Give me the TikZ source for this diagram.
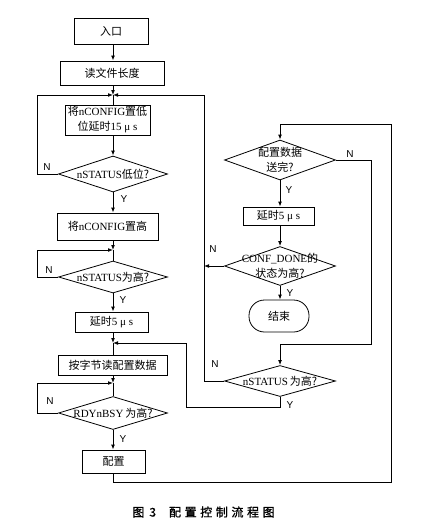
\documentclass[tikz,border=0pt]{standalone}
\usepackage{fontspec}
\setmainfont{Liberation Serif}
\newfontfamily\cjk{Noto Sans CJK SC}
\newfontfamily\capfont[LetterSpace=30,FakeBold=1.2]{Noto Sans CJK SC}
\newfontfamily\ynfont{Liberation Sans}
\usetikzlibrary{shapes.geometric,arrows.meta}
\newcommand\cjt[1]{{\cjk #1}}
\tikzset{
  txt/.style={font=\fontsize{11}{15}\selectfont},
  proc/.style n args={2}{draw, rectangle, txt, minimum width=#1, minimum height=#2, inner sep=0pt, align=center},
  endbox/.style n args={2}{draw, rectangle, rounded corners=15.5pt, txt, minimum width=#1, minimum height=#2, inner sep=0pt, align=center},
  dia/.style n args={2}{draw, diamond, minimum width=#1, minimum height=#2, inner sep=0pt},
  dtext/.style={txt, align=center, inner sep=0pt},
  yn/.style={font=\ynfont\fontsize{10}{12}\selectfont, inner sep=0pt},
  arr/.style={-{Latex[length=5pt,width=3.8pt]}},
}
\begin{document}
\begin{tikzpicture}[x=1pt,y=-1pt,line width=0.8pt]
\useasboundingbox (0,0) rectangle (432,527);
% merge points and routing coordinates
\coordinate (m1) at (113,95);
\coordinate (m2) at (113,250);
\coordinate (m3) at (113,343);
\coordinate (m4) at (113,383);
\coordinate (l1) at (37,95);
\coordinate (l2) at (37,250);
\coordinate (l4) at (37,383);
\coordinate (vx) at (204,95);
\coordinate (rb) at (391,482);
\coordinate (rt) at (391,124);
\coordinate (nx) at (371,344);
\coordinate (yx) at (186,407);
% left column
\node[proc={74pt}{26pt}] (n1) at (111,31) {\cjt{入口}};
\node[proc={104pt}{24pt}] (n2) at (112,73) {\cjt{读文件长度}};
\node[proc={85pt}{30pt}] (n3) at (107.5,120) {\cjt{将}nCONFIG\cjt{置低}\\\cjt{位延时}15 μ s};
\node[dia={109pt}{36pt}, label={[dtext]center:nSTATUS\cjt{低位?}}] (d1) at (113,174) {};
\node[proc={101pt}{27pt}] (n4) at (107.5,226.5) {\cjt{将}nCONFIG\cjt{置高}};
\node[dia={109pt}{32pt}, label={[dtext]center:nSTATUS\cjt{为高?}}] (d2) at (113,277) {};
\node[proc={73pt}{20pt}] (n5) at (111.5,322) {\cjt{延时}5 μ s};
\node[proc={109pt}{20pt}] (n6) at (112.5,365) {\cjt{按字节读配置数据}};
\node[dia={109pt}{33pt}, label={[dtext]center:RDYnBSY\,\cjt{为高?}}] (d3) at (113,413) {};
\node[proc={63pt}{23pt}] (n7) at (113.5,461.5) {\cjt{配置}};
% right column
\node[dia={111pt}{40pt}, label={[dtext]center:\cjt{配置数据}\\\cjt{送完?}}] (d4) at (280,160) {};
\node[proc={71pt}{18pt}] (n8) at (278.5,216) {\cjt{延时}5 μ s};
\node[dia={111pt}{39pt}, label={[dtext]center:CONF\_DONE\cjt{的}\\\cjt{状态为高?}}] (d5) at (280,266) {};
\node[endbox={60pt}{32pt}] (n9) at (279,316) {\cjt{结束}};
\node[dia={111pt}{31pt}, label={[dtext]center:nSTATUS\,\cjt{为高?}}] (d6) at (280,381) {};
% connectors, left column
\draw[arr] (n1.south -| m1) -- (n2.north -| m1);
\draw[arr] (n2.south -| m1) -- (m1);
\draw (m1) -- (n3.north -| m1);
\draw[arr] (n3.south -| m1) -- (d1.north);
\draw[arr] (d1.west) -| (l1) -- (m1);
\draw[arr] (d1.south) -- (n4.north -| m1);
\draw[arr] (n4.south -| m1) -- (m2);
\draw (m2) -- (d2.north);
\draw[arr] (d2.west) -| (l2) -- (m2);
\draw[arr] (d2.south) -- (n5.north -| m1);
\draw[arr] (n5.south -| m1) -- (m3);
\draw (m3) -- (n6.north -| m1);
\draw[arr] (n6.south -| m1) -- (m4);
\draw (m4) -- (d3.north);
\draw[arr] (d3.west) -| (l4) -- (m4);
\draw[arr] (d3.south) -- (n7.north -| m1);
\draw[arr] (n7.south -| m1) |- (rb) -- (rt) -| (d4.north);
% connectors, right column
\draw[arr] (d4.south) -- (n8.north -| d4.south);
\draw[arr] (n8.south -| d4.south) -- (d5.north);
\draw[arr] (d5.west) -- (d5.west -| vx);
\draw[arr] (d5.south) -- (n9.north -| d5.south);
\draw[arr] (d4.east) -| (nx) -| (d6.north);
\draw[arr] (d6.west) -| (vx) -- (m1);
\draw[arr] (d6.south) |- (yx) |- (m3);
% Y / N labels
\node[yn] (N1) at (47,167) {N};
\node[yn] (Y1) at (124,199) {Y};
\node[yn] (N2) at (49,270) {N};
\node[yn] (Y2) at (123,300) {Y};
\node[yn] (N3) at (50,401) {N};
\node[yn] (Y3) at (123,439) {Y};
\node[yn] (N4) at (350,154) {N};
\node[yn] (Y4) at (289,190) {Y};
\node[yn] (N5) at (213,249) {N};
\node[yn] (Y5) at (290,293) {Y};
\node[yn] (N6) at (215,364) {N};
\node[yn] (Y6) at (290,405) {Y};
% caption
\node[anchor=west, inner sep=0pt, font=\capfont\fontsize{12}{14}\selectfont] (cap) at (132,512) {图\hspace{5pt}3\hspace{13pt}配置控制流程图};
\end{tikzpicture}
\end{document}
